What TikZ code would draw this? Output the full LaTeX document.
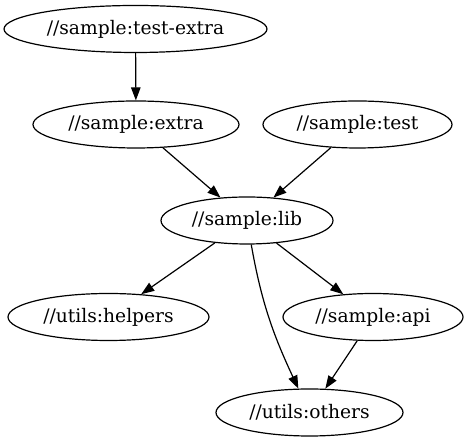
\documentclass[tikz,border=0pt]{standalone}
\usepackage{fontspec}
\setmainfont{DejaVu Serif}
\usetikzlibrary{shapes.geometric,arrows.meta}

\begin{document}
\begin{tikzpicture}[x=1pt,y=1pt,
    target/.style={draw, ellipse, line width=1.2pt, inner sep=0pt, minimum height=47pt, font=\fontsize{18.67pt}{21pt}\selectfont},
    dep/.style={-{Triangle[length=13pt,width=9.5pt]}, line width=1.2pt}]
    \useasboundingbox (0,0) rectangle (468,443);

    % targets
    \node[target, minimum width=263pt] (testextra) at (135.5,414) {//sample:test-extra};
    \node[target, minimum width=206pt] (extra) at (136,318.5) {//sample:extra};
    \node[target, minimum width=189pt] (test) at (357.5,318.5) {//sample:test};
    \node[target, minimum width=172pt] (lib) at (247,222.5) {//sample:lib};
    \node[target, minimum width=201pt] (helpers) at (108.5,126) {//utils:helpers};
    \node[target, minimum width=180pt] (api) at (373,126) {//sample:api};
    \node[target, minimum width=187pt] (others) at (309.5,30.5) {//utils:others};

    % dependencies
    \draw[dep] (testextra) -- (extra);
    \draw[dep] (extra) -- (lib);
    \draw[dep] (test) -- (lib);
    \draw[dep] (lib) -- (helpers);
    \draw[dep] (lib) -- (api);
    \draw[dep] (lib) to[out=-80, in=115] (others);
    \draw[dep] (api) -- (others);
\end{tikzpicture}
\end{document}
